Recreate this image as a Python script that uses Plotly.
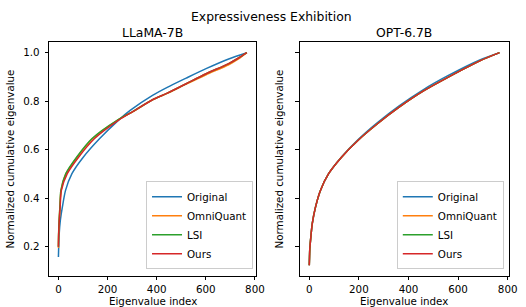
import plotly.graph_objects as go

# ---- data ----
x_ticks = [0, 200, 400, 600, 800]
y_ticks = [0.2, 0.4, 0.6, 0.8, 1.0]
series_names = ["Original", "OmniQuant", "LSI", "Ours"]
colors = ["#1f77b4", "#ff7f0e", "#2ca02c", "#d62728"]

# LLaMA-7B
llama_orig_x = [0, 3, 8, 16, 29, 55, 101, 167, 245, 292, 383, 443, 520, 601, 693, 767]
llama_orig_y = [0.157, 0.25, 0.31, 0.363, 0.432, 0.501, 0.569, 0.645, 0.722, 0.762, 0.824, 0.857, 0.895, 0.934, 0.974, 1.0]
llama_omni_x = [0, 1, 3, 6, 11, 31, 76, 138, 242, 304, 383, 443, 520, 601, 693, 733, 767]
llama_omni_y = [0.195, 0.255, 0.305, 0.363, 0.432, 0.501, 0.569, 0.645, 0.722, 0.757, 0.805, 0.832, 0.870, 0.909, 0.950, 0.974, 1.0]
llama_lsi_x = [0, 1, 3, 6, 10, 30, 74, 136, 240, 304, 383, 443, 520, 601, 693, 733, 767]
llama_lsi_y = [0.2, 0.26, 0.31, 0.363, 0.432, 0.501, 0.569, 0.645, 0.722, 0.758, 0.806, 0.833, 0.872, 0.913, 0.955, 0.978, 1.0]
llama_ours_x = [0, 1, 3, 7, 12, 36, 82, 146, 245, 304, 383, 443, 520, 601, 693, 733, 767]
llama_ours_y = [0.2, 0.25, 0.3, 0.363, 0.432, 0.501, 0.569, 0.645, 0.722, 0.758, 0.806, 0.833, 0.872, 0.913, 0.955, 0.978, 1.0]

# OPT-6.7B
opt_orig_x = [0, 1, 2, 5, 12, 25, 45, 78, 130, 196, 275, 361, 459, 559, 690, 767]
opt_orig_y = [0.123, 0.16, 0.19, 0.226, 0.295, 0.363, 0.432, 0.501, 0.570, 0.641, 0.712, 0.780, 0.847, 0.905, 0.971, 1.0]
opt_omni_x = [0, 1, 2, 5, 12, 25, 45, 78, 130, 196, 275, 361, 459, 559, 690, 767]
opt_omni_y = [0.123, 0.16, 0.19, 0.226, 0.295, 0.363, 0.432, 0.501, 0.569, 0.638, 0.707, 0.774, 0.841, 0.898, 0.967, 1.0]
opt_lsi_x = [0, 1, 2, 5, 12, 25, 45, 78, 130, 196, 275, 361, 459, 559, 690, 767]
opt_lsi_y = [0.123, 0.16, 0.19, 0.226, 0.295, 0.363, 0.432, 0.501, 0.569, 0.638, 0.707, 0.774, 0.841, 0.898, 0.967, 1.0]
opt_ours_x = [0, 1, 2, 5, 12, 25, 45, 78, 130, 196, 275, 361, 459, 559, 690, 767]
opt_ours_y = [0.123, 0.16, 0.19, 0.226, 0.295, 0.363, 0.432, 0.501, 0.569, 0.638, 0.707, 0.774, 0.841, 0.898, 0.967, 1.0]

llama_series = [(llama_orig_x, llama_orig_y), (llama_omni_x, llama_omni_y),
                (llama_lsi_x, llama_lsi_y), (llama_ours_x, llama_ours_y)]
opt_series = [(opt_orig_x, opt_orig_y), (opt_omni_x, opt_omni_y),
              (opt_lsi_x, opt_lsi_y), (opt_ours_x, opt_ours_y)]

FONT = "DejaVu Sans"
FS = 10.3
TFS = 12.4
W, H = 526, 307
L, R, T, B = 49, 8.7, 41.7, 31.3
pw = W - L - R
ph = H - T - B

fig = go.Figure()
for (xs, ys), name, c in zip(llama_series, series_names, colors):
    fig.add_trace(go.Scatter(x=xs, y=ys, mode="lines", name=name,
                             line=dict(color=c, width=1.5, shape="spline", smoothing=0.7),
                             xaxis="x", yaxis="y", legend="legend"))
for (xs, ys), name, c in zip(opt_series, series_names, colors):
    fig.add_trace(go.Scatter(x=xs, y=ys, mode="lines", name=name,
                             line=dict(color=c, width=1.5, shape="spline", smoothing=0.7),
                             xaxis="x2", yaxis="y2", legend="legend2"))

axis_common = dict(showgrid=False, zeroline=False, showline=True, mirror=True,
                   linecolor="black", linewidth=0.8, ticks="outside", ticklen=3.5,
                   tickwidth=0.8, tickcolor="black",
                   tickfont=dict(family=FONT, size=FS, color="black"))

xr = [-38.35, 805.35]
yr = [0.079, 1.044]
d1 = [0, (260 - L) / pw]
d2 = [(304.3 - L) / pw, 1]

legend_common = dict(xanchor="right", yanchor="bottom",
                     bordercolor="#cccccc", borderwidth=1, bgcolor="rgba(255,255,255,0.8)",
                     font=dict(family=FONT, size=FS), tracegroupgap=0, itemwidth=30)

fig.update_layout(
    width=W, height=H,
    margin=dict(l=L, r=R, t=T, b=B, pad=0),
    paper_bgcolor="white", plot_bgcolor="white",
    font=dict(family=FONT, size=FS, color="black"),
    xaxis=dict(domain=d1, range=xr, tickvals=x_ticks, anchor="y", **axis_common),
    yaxis=dict(domain=[0, 1], range=yr, tickvals=y_ticks, tickformat=".1f", anchor="x",
               ticklabelstandoff=3,
               title=dict(text="Normalized cumulative eigenvalue", standoff=6, font=dict(family=FONT, size=FS)),
               **axis_common),
    xaxis2=dict(domain=d2, range=xr, tickvals=x_ticks, anchor="y2", **axis_common),
    yaxis2=dict(domain=[0, 1], range=yr, tickvals=y_ticks, anchor="x2", showticklabels=False,
                matches="y",
                title=dict(text="Normalized cumulative eigenvalue", standoff=9, font=dict(family=FONT, size=FS)),
                **axis_common),
    legend=dict(x=(256.7 - L) / pw, y=(H - B - 269) / ph, **legend_common),
    legend2=dict(x=(512 - L) / pw, y=(H - B - 269) / ph, **legend_common),
)

fig.add_annotation(text="Expressiveness Exhibition", x=(275.5 - L) / pw, y=1 + (T - 16.7) / ph,
                   xref="paper", yref="paper", showarrow=False,
                   font=dict(family=FONT, size=TFS), xanchor="center", yanchor="middle")
for dom, label in [(d1, "LLaMA-7B"), (d2, "OPT-6.7B")]:
    fig.add_annotation(text=label, x=(dom[0] + dom[1]) / 2, y=1 + (T - 32.3) / ph, xref="paper", yref="paper",
                       showarrow=False, font=dict(family=FONT, size=TFS), xanchor="center", yanchor="middle")
    fig.add_annotation(text="Eigenvalue index", x=(dom[0] + dom[1]) / 2, y=-(300.5 - (H - B)) / ph,
                       xref="paper", yref="paper", showarrow=False,
                       font=dict(family=FONT, size=FS), xanchor="center", yanchor="middle")

fig.write_html("out.html", config={"displayModeBar": False},
               post_script="document.body.style.margin='0';")
